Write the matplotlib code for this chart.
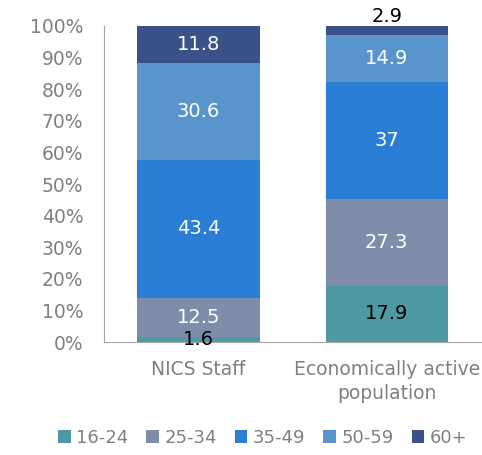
import numpy as np
from matplotlib import pyplot as plt

categories = ['NICS Staff', 'Economically active\npopulation']
age_groups = ['16-24', '25-34', '35-49', '50-59', '60+']
values = {
    '16-24': [1.6, 17.9],
    '25-34': [12.5, 27.3],
    '35-49': [43.4, 37],
    '50-59': [30.6, 14.9],
    '60+': [11.8, 2.9],
}
colors = ['#4f99a5', '#7f8dab', '#2b7ed6', '#5995cc', '#3a5189']

grey = '#808080'
plt.rcParams['font.family'] = ['DejaVu Sans']

fig = plt.figure(figsize=(4.82, 4.55), dpi=100)
ax = fig.add_axes([0.216, 0.248, 0.782, 0.695])

x = np.arange(len(categories))
totals = np.sum([values[g] for g in age_groups], axis=0)
bottom = np.zeros(len(categories))
for g, c in zip(age_groups, colors):
    share = np.array(values[g]) / totals
    ax.bar(x, share, 0.65, bottom=bottom, color=c, label=g)
    for i in range(len(categories)):
        v = values[g][i]
        txt_col = 'white'
        ypos = bottom[i] + share[i] / 2
        if g == '16-24':
            txt_col = 'black'
        if g == '60+' and share[i] < 0.05:
            txt_col = 'black'
            ypos = 1.03
        ax.text(x[i], ypos, f'{v:g}', ha='center', va='center',
                color=txt_col, fontsize=14)
    bottom += share

ax.set_xlim(-0.5, 1.5)
ax.set_ylim(0, 1)
ax.set_yticks(np.arange(0, 1.01, 0.1))
ax.set_yticklabels([f'{int(round(t * 100))}%' for t in np.arange(0, 1.01, 0.1)])
ax.set_xticks(x)
ax.set_xticklabels(categories, linespacing=1.35)
ax.tick_params(length=0, colors=grey, labelsize=13.5)
ax.tick_params(axis='x', pad=13)
ax.tick_params(axis='y', pad=15)
for s in ['top', 'right']:
    ax.spines[s].set_visible(False)
for s in ['left', 'bottom']:
    ax.spines[s].set_color('#a6a6a6')
ax.spines['left'].set_zorder(0)

leg = fig.legend(loc='lower center', bbox_to_anchor=(0.545, -0.018), ncol=5,
                 frameon=False, fontsize=13, handlelength=0.7, handleheight=0.7,
                 handletextpad=0.3, columnspacing=1.0)
for t in leg.get_texts():
    t.set_color(grey)

plt.savefig('out.png', format='png')
